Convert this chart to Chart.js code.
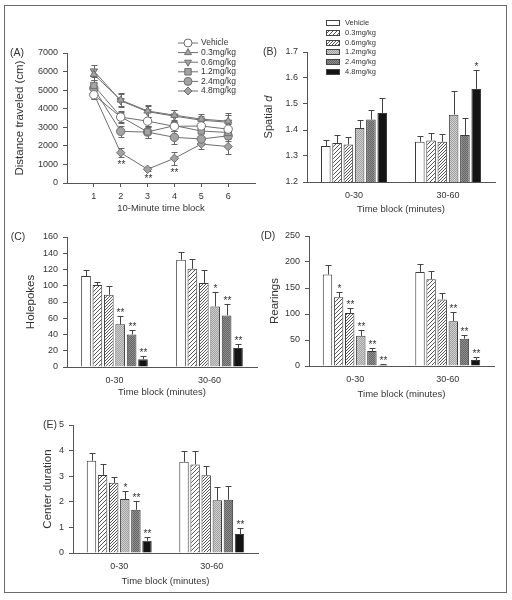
<!DOCTYPE html>
<html>
<head>
<meta charset="utf-8">
<script src="https://cdn.jsdelivr.net/npm/chart.js@4.4.1/dist/chart.umd.min.js"></script>
<style>
  body { margin: 0; background: #fff; }
  #fig { position: relative; width: 512px; height: 600px; overflow: hidden; }
  #frame { position: absolute; left: 4px; top: 5px; width: 501px; height: 586px; border: 1px solid #6a6a6a; }
  canvas { position: absolute; }
</style>
</head>
<body>
<div id="fig">
  <div id="frame"></div>
  <canvas id="panelA"></canvas>
  <canvas id="panelB"></canvas>
  <canvas id="panelC"></canvas>
  <canvas id="panelD"></canvas>
  <canvas id="panelE"></canvas>
</div>
<script>
// ---- data ----
const doseLabels = ['Vehicle', '0.3mg/kg', '0.6mg/kg', '1.2mg/kg', '2.4mg/kg', '4.8mg/kg'];
const blockLabels = ['0-30', '30-60'];

// (A) distance traveled per 10-minute block
const timeBlocks = [1, 2, 3, 4, 5, 6];
const distVehicle = [4750, 3550, 3330, 3050, 3070, 2900];
const dist03 = [5850, 4470, 3880, 3650, 3440, 3330];
const dist06 = [6030, 4430, 3840, 3600, 3380, 3270];
const dist12 = [5250, 3570, 2750, 3090, 2800, 2720];
const dist24 = [5100, 2780, 2740, 2460, 2370, 2540];
const dist48 = [4800, 1630, 740, 1330, 2100, 1960];
const distErrVehicle = [250, 300, 250, 250, 250, 300];
const distErr03 = [300, 350, 300, 300, 250, 450];
const distErr06 = [300, 350, 300, 350, 250, 400];
const distErr12 = [300, 300, 300, 300, 300, 300];
const distErr24 = [300, 300, 300, 350, 300, 300];
const distErr48 = [250, 250, 120, 350, 250, 400];
const distStars48 = ['', '**', '**', '**', '', ''];

// (B) spatial d
const spatial030 = [1.338, 1.35, 1.344, 1.408, 1.44, 1.465];
const spatialErr030 = [0.022, 0.032, 0.028, 0.032, 0.037, 0.058];
const spatial3060 = [1.355, 1.36, 1.355, 1.459, 1.381, 1.558];
const spatialErr3060 = [0.022, 0.03, 0.028, 0.09, 0.066, 0.072];
const spatialStars030 = ['', '', '', '', '', ''];
const spatialStars3060 = ['', '', '', '', '', '*'];

// (C) holepokes
const hole030 = [112, 101, 89, 52.5, 40, 9.5];
const holeErr030 = [7.5, 4, 10.5, 10.5, 6, 3.5];
const hole3060 = [132, 121, 103.5, 74.5, 63.5, 23.5];
const holeErr3060 = [9, 12, 16, 18, 14.5, 5];
const holeStars030 = ['', '', '', '**', '**', '**'];
const holeStars3060 = ['', '', '', '*', '**', '**'];

// (D) rearings
const rear030 = [176, 132, 102, 58, 29, 2];
const rearErr030 = [19, 10, 10, 10.5, 5, 1];
const rear3060 = [181, 167, 128, 86, 52.5, 11.5];
const rearErr3060 = [16, 16, 11.5, 18.5, 6.5, 6.5];
const rearStars030 = ['', '*', '**', '**', '**', '**'];
const rearStars3060 = ['', '', '', '**', '**', '**'];

// (E) center duration
const center030 = [3.6, 3.05, 2.74, 2.11, 1.69, 0.48];
const centerErr030 = [0.3, 0.41, 0.23, 0.32, 0.33, 0.15];
const center3060 = [3.56, 3.46, 3.04, 2.06, 2.08, 0.74];
const centerErr3060 = [0.41, 0.51, 0.34, 0.5, 0.54, 0.23];
const centerStars030 = ['', '', '', '*', '**', '**'];
const centerStars3060 = ['', '', '', '', '', '**'];

// ---- style ----
const regular = "'Liberation Sans', Arial, sans-serif";
const ink = '#333';
const axisColor = '#555';
const tickSize = 9;
Chart.defaults.font.family = regular;
Chart.defaults.font.size = tickSize;
Chart.defaults.color = ink;
Chart.defaults.animation = false;

function place(id, box) {
    const c = document.getElementById(id);
    c.width = box.w;
    c.height = box.h;
    c.style.left = box.x + 'px';
    c.style.top = box.y + 'px';
    return c;
}

function hatch(ctx, size) {
    const t = document.createElement('canvas');
    t.width = t.height = size;
    const g = t.getContext('2d');
    g.fillStyle = '#fff';
    g.fillRect(0, 0, size, size);
    g.strokeStyle = '#444';
    g.lineWidth = 0.9;
    g.beginPath();
    for (let c = 0; c <= 2 * size; c += size) {
        g.moveTo(c - size - 1, size + 1);
        g.lineTo(c + 1, -1);
    }
    g.stroke();
    return ctx.createPattern(t, 'repeat');
}

function dots(ctx, base, dark) {
    const t = document.createElement('canvas');
    t.width = t.height = 2;
    const g = t.getContext('2d');
    g.fillStyle = base;
    g.fillRect(0, 0, 2, 2);
    g.fillStyle = dark;
    g.fillRect(0, 0, 1, 1);
    g.fillRect(1, 1, 1, 1);
    return ctx.createPattern(t, 'repeat');
}

function barFills(ctx) {
    return ['#ffffff', hatch(ctx, 4), hatch(ctx, 3),
        dots(ctx, '#cfcfcf', '#a2a2a2'), dots(ctx, '#8e8e8e', '#666666'), '#141414'];
}

function marker(ctx, style, x, y, r) {
    ctx.beginPath();
    if (style === 'circle') {
        ctx.arc(x, y, r, 0, Math.PI * 2);
    } else if (style === 'rect') {
        ctx.rect(x - r * 0.8, y - r * 0.8, r * 1.6, r * 1.6);
    } else if (style === 'rectRot') {
        ctx.moveTo(x, y - r); ctx.lineTo(x + r, y); ctx.lineTo(x, y + r); ctx.lineTo(x - r, y); ctx.closePath();
    } else if (style === 'triangle') {
        ctx.moveTo(x, y - r); ctx.lineTo(x + r * 0.87, y + r * 0.5); ctx.lineTo(x - r * 0.87, y + r * 0.5); ctx.closePath();
    } else {
        ctx.moveTo(x, y + r); ctx.lineTo(x + r * 0.87, y - r * 0.5); ctx.lineTo(x - r * 0.87, y - r * 0.5); ctx.closePath();
    }
    ctx.fill();
    ctx.stroke();
}

function valueOf(v) {
    return (v !== null && typeof v === 'object') ? v.y : v;
}

function drawErrors(chart, both) {
    const ctx = chart.ctx, y = chart.scales.y;
    ctx.save();
    ctx.strokeStyle = both ? '#666' : '#444';
    ctx.lineWidth = 1;
    ctx.fillStyle = ink;
    ctx.font = '10px ' + regular;
    ctx.textAlign = 'center';
    chart.data.datasets.forEach((ds, i) => {
        const meta = chart.getDatasetMeta(i);
        meta.data.forEach((el, j) => {
            const v = valueOf(ds.data[j]), e = ds.errors[j];
            const top = Math.round(y.getPixelForValue(v + e)) + 0.5;
            const bottom = both ? Math.round(y.getPixelForValue(v - e)) + 0.5 : el.y;
            const x = Math.round(el.x) + 0.5;
            const cap = 3;
            ctx.beginPath();
            ctx.moveTo(x, bottom); ctx.lineTo(x, top);
            ctx.moveTo(x - cap, top); ctx.lineTo(x + cap, top);
            if (both) { ctx.moveTo(x - cap, bottom); ctx.lineTo(x + cap, bottom); }
            ctx.stroke();
            const s = ds.stars ? ds.stars[j] : '';
            if (s) {
                if (both) {
                    ctx.textBaseline = 'top';
                    ctx.fillText(s, x, bottom + 3);
                } else {
                    ctx.textBaseline = 'alphabetic';
                    ctx.fillText(s, x, top - 1);
                }
            }
        });
    });
    ctx.restore();
}

const decor = {
    id: 'decor',
    beforeDatasetsDraw(chart, args, opts) {
        if (opts.kind === 'line') drawErrors(chart, true);
    },
    afterDatasetsDraw(chart, args, opts) {
        if (opts.kind === 'bar') drawErrors(chart, false);
    },
    afterDraw(chart, args, opts) {
        const ctx = chart.ctx;
        ctx.save();
        ctx.fillStyle = ink;
        ctx.font = '10.5px ' + regular;
        ctx.textAlign = 'center';
        ctx.textBaseline = 'middle';
        ctx.fillText(opts.letter, opts.letterX - opts.bx, opts.letterY - opts.by);

        if (opts.spatialTitle) {
            ctx.translate(opts.titleX - opts.bx, opts.titleY - opts.by);
            ctx.rotate(-Math.PI / 2);
            ctx.font = '11px ' + regular;
            const w1 = ctx.measureText('Spatial ').width;
            ctx.font = 'italic 11px ' + regular;
            const w2 = ctx.measureText('d').width;
            ctx.textAlign = 'left';
            ctx.font = '11px ' + regular;
            ctx.fillText('Spatial ', -(w1 + w2) / 2, 0);
            ctx.font = 'italic 11px ' + regular;
            ctx.fillText('d', -(w1 + w2) / 2 + w1, 0);
            ctx.setTransform(1, 0, 0, 1, 0, 0);
        }

        if (opts.legend === 'line') {
            chart.data.datasets.forEach((ds, i) => {
                const y = opts.legendY + i * opts.legendStep - opts.by;
                const x0 = opts.legendX - opts.bx;
                ctx.strokeStyle = ds.borderColor;
                ctx.lineWidth = 1;
                ctx.beginPath();
                ctx.moveTo(x0, y); ctx.lineTo(x0 + 20, y);
                ctx.stroke();
                ctx.fillStyle = ds.pointBackgroundColor;
                ctx.strokeStyle = ds.pointBorderColor;
                marker(ctx, ds.legendMarker, x0 + 10, y, 4);
                ctx.fillStyle = ink;
                ctx.font = '8.5px ' + regular;
                ctx.textAlign = 'left';
                ctx.fillText(ds.label, x0 + 23, y);
            });
        } else if (opts.legend === 'bar') {
            chart.data.datasets.forEach((ds, i) => {
                const y = Math.round(opts.legendY + i * opts.legendStep - opts.by);
                const x0 = opts.legendX - opts.bx;
                ctx.fillStyle = ds.backgroundColor;
                ctx.fillRect(x0, y - 3, 14, 6);
                ctx.strokeStyle = '#444';
                ctx.lineWidth = 1;
                ctx.strokeRect(x0 + 0.5, y - 2.5, 13, 5);
                ctx.fillStyle = ink;
                ctx.font = '7.5px ' + regular;
                ctx.textAlign = 'left';
                ctx.fillText(ds.label, x0 + 19, y);
            });
        }
        ctx.restore();
    }
};

function yScale(box, area, cfg) {
    return {
        min: cfg.min,
        max: cfg.max,
        afterFit: s => { s.width = area.l - box.x; },
        border: { color: axisColor, width: 1 },
        grid: { drawOnChartArea: false, drawTicks: true, tickLength: 4, color: axisColor },
        ticks: { stepSize: cfg.step, padding: 5, font: { size: tickSize }, callback: cfg.fmt || (v => v) },
        title: {
            display: !!cfg.yTitle,
            text: cfg.yTitle,
            color: ink,
            font: { family: regular, size: 11.5 },
            padding: { top: cfg.titleX - box.x - 6.9, bottom: 0 }
        }
    };
}

function layoutPad(box, area) {
    return { left: 0, top: area.t - box.y, right: box.x + box.w - area.r, bottom: 0 };
}

// ---- panel A: line chart ----
(function () {
    const box = { x: 4, y: 30, w: 258, h: 190 };
    const area = { l: 67, t: 53, r: 255, b: 183 };
    const series = [
        { v: distVehicle, e: distErrVehicle, style: 'circle', rot: 0, fill: '#ffffff', m: 'circle' },
        { v: dist03, e: distErr03, style: 'triangle', rot: 0, fill: '#a3a3a3', m: 'triangle' },
        { v: dist06, e: distErr06, style: 'triangle', rot: 180, fill: '#a3a3a3', m: 'triangleDown' },
        { v: dist12, e: distErr12, style: 'rect', rot: 0, fill: '#a3a3a3', m: 'rect' },
        { v: dist24, e: distErr24, style: 'circle', rot: 0, fill: '#a3a3a3', m: 'circle' },
        { v: dist48, e: distErr48, style: 'rectRot', rot: 0, fill: '#a3a3a3', m: 'rectRot', stars: distStars48 }
    ];
    const datasets = series.map((s, i) => ({
        label: doseLabels[i],
        data: timeBlocks.map((t, j) => ({ x: t, y: s.v[j] })),
        errors: s.e,
        stars: s.stars,
        legendMarker: s.m,
        borderColor: '#6e6e6e',
        borderWidth: 1,
        pointStyle: s.style,
        pointRotation: s.rot,
        pointRadius: s.style === 'rect' ? 4.5 : 4.2,
        pointBackgroundColor: s.fill,
        pointBorderColor: '#6e6e6e',
        pointBorderWidth: 1,
        tension: 0
    }));
    const c = place('panelA', box);
    new Chart(c.getContext('2d'), {
        type: 'line',
        data: { datasets },
        options: {
            responsive: false,
            layout: { padding: layoutPad(box, area) },
            plugins: {
                legend: { display: false },
                tooltip: { enabled: false },
                decor: {
                    kind: 'line', bx: box.x, by: box.y,
                    letter: '(A)', letterX: 17, letterY: 53,
                    legend: 'line', legendX: 178, legendY: 43, legendStep: 9.6
                }
            },
            scales: {
                x: {
                    type: 'linear',
                    min: 0,
                    max: 7,
                    afterBuildTicks: s => { s.ticks = timeBlocks.map(v => ({ value: v })); },
                    afterFit: s => { s.height = box.y + box.h - area.b; },
                    border: { color: axisColor, width: 1 },
                    grid: { drawOnChartArea: false, drawTicks: true, tickLength: 4, color: axisColor },
                    ticks: { padding: 4, font: { size: tickSize } },
                    title: {
                        display: true, text: '10-Minute time block', color: ink,
                        font: { size: 9.5 }, padding: { top: 0, bottom: box.y + box.h - 208 - 5.7 }
                    }
                },
                y: yScale(box, area, { min: 0, max: 7000, step: 1000, yTitle: 'Distance traveled (cm)', titleX: 20 })
            }
        },
        plugins: [decor]
    });
})();

// ---- bar panels ----
function barPanel(id, box, area, cfg) {
    const c = place(id, box);
    const ctx = c.getContext('2d');
    const fills = barFills(ctx);
    const datasets = doseLabels.map((label, i) => ({
        label,
        data: [cfg.early[i], cfg.late[i]],
        errors: [cfg.earlyErr[i], cfg.lateErr[i]],
        stars: [cfg.earlyStars[i], cfg.lateStars[i]],
        backgroundColor: fills[i],
        borderColor: '#3a3a3a',
        borderWidth: 1,
        barPercentage: 0.85,
        categoryPercentage: 0.72
    }));
    new Chart(ctx, {
        type: 'bar',
        data: { labels: blockLabels, datasets },
        options: {
            responsive: false,
            layout: { padding: layoutPad(box, area) },
            plugins: {
                legend: { display: false },
                tooltip: { enabled: false },
                decor: Object.assign({ kind: 'bar', bx: box.x, by: box.y }, cfg.decor)
            },
            scales: {
                x: {
                    afterFit: s => { s.height = box.y + box.h - area.b; },
                    border: { color: axisColor, width: 1 },
                    grid: { drawOnChartArea: false, drawTicks: false, tickLength: 0 },
                    ticks: { padding: 8, font: { size: tickSize } },
                    title: {
                        display: true, text: 'Time block (minutes)', color: ink,
                        font: { size: 9.5 }, padding: { top: 0, bottom: box.y + box.h - cfg.xTitleY - 5.7 }
                    }
                },
                y: yScale(box, area, cfg)
            }
        },
        plugins: [decor]
    });
}

barPanel('panelB', { x: 262, y: 10, w: 245, h: 210 }, { l: 307, t: 52, r: 495, b: 182 }, {
    early: spatial030, earlyErr: spatialErr030, earlyStars: spatialStars030,
    late: spatial3060, lateErr: spatialErr3060, lateStars: spatialStars3060,
    min: 1.2, max: 1.7, step: 0.1, fmt: v => v.toFixed(1), yTitle: '', titleX: 269, xTitleY: 209,
    decor: {
        letter: '(B)', letterX: 270, letterY: 52,
        spatialTitle: true, titleX: 269, titleY: 117,
        legend: 'bar', legendX: 326, legendY: 23, legendStep: 9.8
    }
});

barPanel('panelC', { x: 4, y: 225, w: 258, h: 180 }, { l: 67, t: 237, r: 257, b: 367 }, {
    early: hole030, earlyErr: holeErr030, earlyStars: holeStars030,
    late: hole3060, lateErr: holeErr3060, lateStars: holeStars3060,
    min: 0, max: 160, step: 20, yTitle: 'Holepokes', titleX: 31, xTitleY: 392,
    decor: { letter: '(C)', letterX: 18, letterY: 237 }
});

barPanel('panelD', { x: 256, y: 225, w: 251, h: 180 }, { l: 309, t: 236, r: 494, b: 366 }, {
    early: rear030, earlyErr: rearErr030, earlyStars: rearStars030,
    late: rear3060, lateErr: rearErr3060, lateStars: rearStars3060,
    min: 0, max: 250, step: 50, yTitle: 'Rearings', titleX: 275, xTitleY: 394,
    decor: { letter: '(D)', letterX: 268, letterY: 236 }
});

barPanel('panelE', { x: 4, y: 410, w: 258, h: 182 }, { l: 73, t: 425, r: 258, b: 553 }, {
    early: center030, earlyErr: centerErr030, earlyStars: centerStars030,
    late: center3060, lateErr: centerErr3060, lateStars: centerStars3060,
    min: 0, max: 5, step: 1, yTitle: 'Center duration', titleX: 48, xTitleY: 581,
    decor: { letter: '(E)', letterX: 50, letterY: 425 }
});
</script>
</body>
</html>
